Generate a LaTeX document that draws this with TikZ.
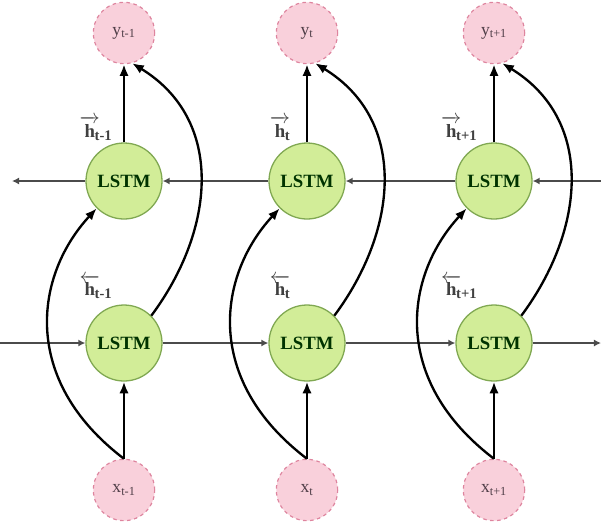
\documentclass[tikz,border=0pt]{standalone}
\usepackage{fontspec}
\setmainfont{Liberation Serif}
\usepackage{amsmath}
\usetikzlibrary{arrows.meta}
\definecolor{pinkfill}{RGB}{249,208,219}
\definecolor{pinkline}{RGB}{222,132,158}
\definecolor{greenfill}{RGB}{210,237,152}
\definecolor{greenline}{RGB}{128,168,82}
\definecolor{linegray}{RGB}{75,75,75}
\definecolor{labgray}{RGB}{80,62,72}

% subscript of the hidden state labels
\newcommand\hsub[1]{\kern-0.28em\raisebox{-0.45ex}{\fontsize{12.5}{14}\selectfont #1}}

\tikzset{
  io/.style={circle, draw=pinkline, dashed, line width=1pt, fill=pinkfill,
    minimum size=1.84cm, inner sep=0pt, text=labgray,
    font=\fontsize{15}{17}\selectfont},
  lstm/.style={circle, draw=greenline, line width=1.1pt, fill=greenfill,
    minimum size=2.28cm, inner sep=0pt, text=black!80!green,
    font=\fontsize{16}{18}\selectfont\bfseries},
  hlab/.style={anchor=base east, inner sep=0pt, text=black!75,
    font=\fontsize{16}{18}\selectfont\bfseries},
  flow/.style={-{Latex[length=10pt,width=8pt]}, line width=2pt},
  seq/.style={-{Latex[length=6pt,width=6pt]}, line width=1.6pt, draw=linegray},
}

\begin{document}
\begin{tikzpicture}[x=0.03cm, y=-0.03cm]
\useasboundingbox (0,0) rectangle (601,523);

%---------------------------------------
% Rows and columns (pixels)
%---------------------------------------
\def\colA{124}
\def\colB{307}
\def\colC{494}
\def\rowY{33}
\def\rowF{181}
\def\rowB{343}
\def\rowX{490}

%====================================================
% Nodes
%====================================================
% outputs
\node[io] (y1) at (\colA,\rowY) {y\textsubscript{t-1}};
\node[io] (y2) at (\colB,\rowY) {y\textsubscript{t}};
\node[io] (y3) at (\colC,\rowY) {y\textsubscript{t+1}};

% forward layer
\node[lstm] (f1) at (\colA,\rowF) {LSTM};
\node[lstm] (f2) at (\colB,\rowF) {LSTM};
\node[lstm] (f3) at (\colC,\rowF) {LSTM};

% backward layer
\node[lstm] (b1) at (\colA,\rowB) {LSTM};
\node[lstm] (b2) at (\colB,\rowB) {LSTM};
\node[lstm] (b3) at (\colC,\rowB) {LSTM};

% inputs
\node[io] (x1) at (\colA,\rowX) {x\textsubscript{t-1}};
\node[io] (x2) at (\colB,\rowX) {x\textsubscript{t}};
\node[io] (x3) at (\colC,\rowX) {x\textsubscript{t+1}};

% hidden state labels
\node[hlab] (hf1) at (\colA-12,137) {$\overrightarrow{\textbf{h}}$\hsub{t-1}};
\node[hlab] (hf2) at (\colB-17,137) {$\overrightarrow{\textbf{h}}$\hsub{t}};
\node[hlab] (hf3) at (\colC-17,137) {$\overrightarrow{\textbf{h}}$\hsub{t+1}};
\node[hlab] (hb1) at (\colA-12,295) {$\overleftarrow{\textbf{h}}$\hsub{t-1}};
\node[hlab] (hb2) at (\colB-17,295) {$\overleftarrow{\textbf{h}}$\hsub{t}};
\node[hlab] (hb3) at (\colC-17,295) {$\overleftarrow{\textbf{h}}$\hsub{t+1}};

% free ends of the rows
\coordinate (fin) at (601,\rowF);
\coordinate (fout) at (12,\rowF);
\coordinate (bin) at (0,\rowB);
\coordinate (bout) at (601,\rowB);

%====================================================
% Connectors
%====================================================
% ---- forward row (right to left) ----
\draw[seq] (fin) -- (f3);
\draw[seq] (f3) -- (f2);
\draw[seq] (f2) -- (f1);
\draw[seq] (f1) -- (fout);

% ---- backward row (left to right) ----
\draw[seq] (bin) -- (b1);
\draw[seq] (b1) -- (b2);
\draw[seq] (b2) -- (b3);
\draw[seq] (b3) -- (bout);

% ---- inputs and outputs ----
\draw[flow] (x1) -- (b1);
\draw[flow] (x2) -- (b2);
\draw[flow] (x3) -- (b3);
\draw[flow] (f1) -- (y1);
\draw[flow] (f2) -- (y2);
\draw[flow] (f3) -- (y3);

% ---- input to forward layer ----
\draw[flow] (x1.north) .. controls +(-104,-79) and +(-62,67) .. (f1.225);
\draw[flow] (x2.north) .. controls +(-104,-79) and +(-62,67) .. (f2.225);
\draw[flow] (x3.north) .. controls +(-104,-79) and +(-62,67) .. (f3.225);

% ---- backward layer to output ----
\draw[flow] (b1.45) .. controls +(64,-86) and +(93,57) .. (y1.-75);
\draw[flow] (b2.45) .. controls +(64,-86) and +(93,57) .. (y2.-75);
\draw[flow] (b3.45) .. controls +(64,-86) and +(93,57) .. (y3.-75);

\end{tikzpicture}
\end{document}
